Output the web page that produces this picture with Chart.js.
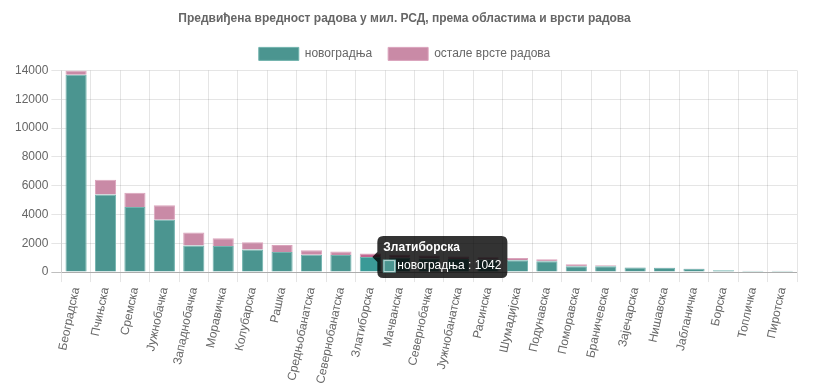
<!DOCTYPE html>
<html>
<head>
<meta charset="utf-8">
<script src="https://cdn.jsdelivr.net/npm/chart.js@4/dist/chart.umd.min.js"></script>
<style>
html,body{margin:0;padding:0;background:#fff;}
#wrap{width:835px;height:389px;position:relative;}
</style>
</head>
<body>
<div id="wrap"><canvas id="c"></canvas></div>
<script>
const titleText = 'Предвиђена вредност радова у мил. РСД, према областима и врсти радова';
const categories = ['Београдска','Пчињска','Сремска','Јужнобачка','Западнобачка','Моравичка','Колубарска','Рашка','Средњобанатска','Севернобанатска','Златиборска','Мачванска','Севернобачка','Јужнобанатска','Расинска','Шумадијска','Подунавска','Поморавска','Браничевска','Зајечарска','Нишавска','Јабланичка','Борска','Топличка','Пиротска'];
const seriesNames = ['новоградња','остале врсте радова'];
const novogradnja = [13700,5390,4510,3640,1840,1810,1560,1390,1210,1185,1042,1000,950,900,870,820,750,400,400,320,300,235,125,80,80];
const ostale =      [290,1020,1000,990,900,530,505,490,300,235,240,200,200,180,150,160,135,140,70,15,10,10,5,5,5];
const yTicks = [0,2000,4000,6000,8000,10000,12000,14000];

Chart.defaults.font.family = "'Liberation Sans', Arial, Helvetica, sans-serif";
Chart.defaults.font.size = 12;
Chart.defaults.color = '#666';

const tooltipPlugin = Chart.registry.getPlugin('tooltip');
tooltipPlugin.positioners.barTop = function(elements) {
  if (!elements.length) return false;
  const el = elements[0].element;
  return {x: el.x, y: el.y};
};

const chart = new Chart(document.getElementById('c'), {
  type: 'bar',
  data: {
    labels: categories,
    datasets: [
      {label: seriesNames[0], data: novogradnja, backgroundColor: '#4b9590', borderColor: '#72b3ae', borderWidth: 1,
       hoverBackgroundColor: '#3a9a97', hoverBorderColor: '#72b3ae'},
      {label: seriesNames[1], data: ostale, backgroundColor: '#c98aa6', borderColor: '#dba4bc', borderWidth: 1,
       hoverBackgroundColor: '#c46690', hoverBorderColor: '#dba4bc'}
    ]
  },
  options: {
    responsive: true,
    maintainAspectRatio: false,
    animation: false,
    layout: {padding: {left: 12, right: 38, top: 1, bottom: 0}},
    plugins: {
      title: {display: true, text: titleText, color: '#666', font: {size: 12, weight: 'bold'}, padding: {top: 10, bottom: 6}},
      legend: {labels: {boxWidth: 40, boxHeight: 13, padding: 16, color: '#666'}},
      tooltip: {
        position: 'barTop',
        backgroundColor: 'rgba(0,0,0,0.8)',
        cornerRadius: 6,
        caretSize: 5,
        caretPadding: 2,
        padding: 6,
        titleFont: {size: 12, weight: 'bold', lineHeight: 1},
        bodyFont: {size: 12, lineHeight: 1},
        titleMarginBottom: 6,
        callbacks: {
          label: (ctx) => ctx.dataset.label + ' : ' + ctx.raw
        }
      }
    },
    scales: {
      x: {
        stacked: true,
        grid: {color: 'rgba(0,0,0,0.1)', tickLength: 10, offset: true},
        ticks: {minRotation: 78, maxRotation: 78, autoSkip: false, padding: 4}
      },
      y: {
        stacked: true,
        min: 0, max: 14000,
        afterBuildTicks: (axis) => { axis.ticks = yTicks.map(v => ({value: v})); },
        grid: {
          color: (c) => c.tick && c.tick.value === 0 ? 'rgba(0,0,0,0.25)' : 'rgba(0,0,0,0.1)',
          tickLength: 10
        },
        border: {color: 'rgba(0,0,0,0.1)'},
        ticks: {padding: 3, callback: (v) => String(v)}
      }
    }
  }
});

chart.setActiveElements([{datasetIndex: 0, index: 10}, {datasetIndex: 1, index: 10}]);
const el = chart.getDatasetMeta(0).data[10];
chart.tooltip.setActiveElements([{datasetIndex: 0, index: 10}], {x: el.x, y: el.y});
chart.update();
</script>
</body>
</html>
